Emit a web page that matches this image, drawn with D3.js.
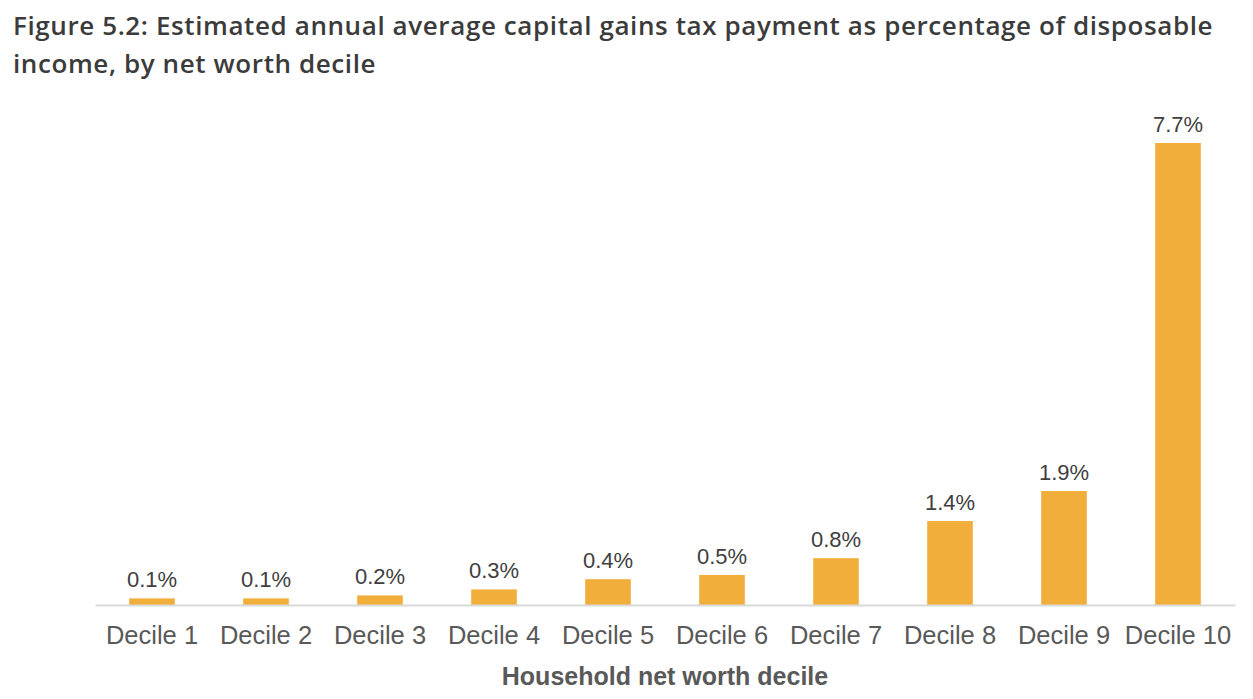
<!DOCTYPE html>
<html>
<head>
<meta charset="utf-8">
<script src="https://cdn.jsdelivr.net/npm/d3@7"></script>
<style>
  body { margin: 0; background: #fff; }
  svg { display: block; }
</style>
</head>
<body>
<svg width="1253" height="699"></svg>
<script>
// Chart data
const deciles = ['Decile 1', 'Decile 2', 'Decile 3', 'Decile 4', 'Decile 5',
                 'Decile 6', 'Decile 7', 'Decile 8', 'Decile 9', 'Decile 10'];
const taxShare = [0.11, 0.11, 0.16, 0.26, 0.43, 0.5, 0.78, 1.4, 1.9, 7.7];

const titleLines = [
    'Figure 5.2: Estimated annual average capital gains tax payment as percentage of disposable',
    'income, by net worth decile'
];
const xTitle = 'Household net worth decile';

const svg = d3.select('svg');
const width = 1253;
const height = 699;
const margin = { top: 143, right: 18, bottom: 94, left: 95 };
const innerWidth = width - margin.left - margin.right;
const innerHeight = height - margin.top - margin.bottom;

const data = deciles.map((d, i) => ({ decile: d, value: taxShare[i] }));

// Title
svg.append('g')
    .selectAll('text')
    .data(titleLines)
    .join('text')
    .attr('x', 13)
    .attr('y', (d, i) => 35 + i * 38)
    .attr('font-family', 'Open Sans, sans-serif')
    .attr('font-weight', 600)
    .attr('font-size', 26)
    .attr('letter-spacing', 0.6)
    .attr('fill', '#3b3b3b')
    .text(d => d);

const g = svg.append('g')
    .attr('transform', `translate(${margin.left},${margin.top})`);

// Scales
const xScale = d3.scaleBand()
    .domain(deciles)
    .range([0, innerWidth])
    .paddingInner(0.6)
    .paddingOuter(0.3);

const yScale = d3.scaleLinear()
    .domain([0, d3.max(taxShare)])
    .range([innerHeight, 0]);

// Bars
g.selectAll('rect')
    .data(data)
    .join('rect')
    .attr('x', d => xScale(d.decile))
    .attr('y', d => yScale(d.value))
    .attr('width', xScale.bandwidth())
    .attr('height', d => innerHeight - yScale(d.value))
    .attr('fill', '#F2AE3A');

// Value labels
g.selectAll('.value-label')
    .data(data)
    .join('text')
    .attr('class', 'value-label')
    .attr('x', d => xScale(d.decile) + xScale.bandwidth() / 2)
    .attr('y', d => yScale(d.value) - 11)
    .attr('text-anchor', 'middle')
    .attr('font-family', 'Liberation Sans, Arial, sans-serif')
    .attr('font-size', 22)
    .attr('fill', '#404040')
    .text(d => d.value.toFixed(1) + '%');

// X axis
const xAxis = d3.axisBottom(xScale).tickSize(0).tickPadding(21);
const xAxisG = g.append('g')
    .attr('transform', `translate(0,${innerHeight})`)
    .call(xAxis);
xAxisG.select('.domain')
    .attr('stroke', '#d9d9d9')
    .attr('stroke-width', 2);
xAxisG.selectAll('text')
    .attr('font-family', 'Liberation Sans, Arial, sans-serif')
    .attr('font-size', 25.5)
    .attr('fill', '#595959');

// Axis title
g.append('text')
    .attr('x', innerWidth / 2)
    .attr('y', innerHeight + 80)
    .attr('text-anchor', 'middle')
    .attr('font-family', 'Liberation Sans, Arial, sans-serif')
    .attr('font-weight', 700)
    .attr('font-size', 25)
    .attr('fill', '#595959')
    .text(xTitle);
</script>
</body>
</html>
